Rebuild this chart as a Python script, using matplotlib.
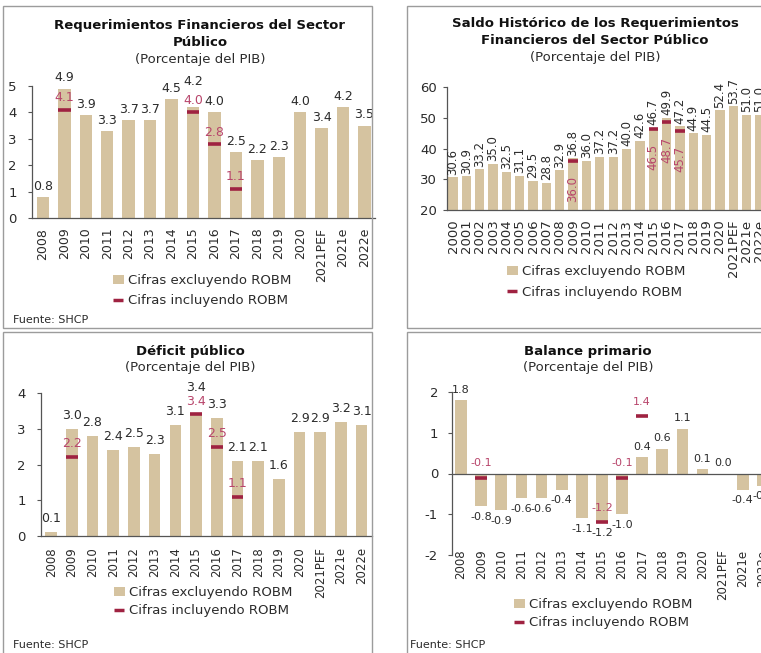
import matplotlib
matplotlib.use("Agg")
import matplotlib.pyplot as plt
import numpy as np
from matplotlib.lines import Line2D
from matplotlib.patches import Patch, Rectangle

# data (% of GDP)
YEARS_A = ["2008", "2009", "2010", "2011", "2012", "2013", "2014", "2015",
           "2016", "2017", "2018", "2019", "2020", "2021PEF", "2021e", "2022e"]
YEARS_B = ["2000", "2001", "2002", "2003", "2004", "2005", "2006", "2007"] + YEARS_A

RFSP = [0.8, 4.9, 3.9, 3.3, 3.7, 3.7, 4.5, 4.2, 4.0, 2.5, 2.2, 2.3, 4.0, 3.4, 4.2, 3.5]
RFSP_ROBM = {"2009": 4.1, "2015": 4.0, "2016": 2.8, "2017": 1.1}

SHRFSP = [30.6, 30.9, 33.2, 35.0, 32.5, 31.1, 29.5, 28.8, 32.9, 36.8, 36.0, 37.2,
          37.2, 40.0, 42.6, 46.7, 49.9, 47.2, 44.9, 44.5, 52.4, 53.7, 51.0, 51.0]
SHRFSP_ROBM = {"2009": 36.0, "2015": 46.5, "2016": 48.7, "2017": 45.7}

DEFICIT = [0.1, 3.0, 2.8, 2.4, 2.5, 2.3, 3.1, 3.4, 3.3, 2.1, 2.1, 1.6, 2.9, 2.9, 3.2, 3.1]
DEFICIT_ROBM = {"2009": 2.2, "2015": 3.4, "2016": 2.5, "2017": 1.1}

BALANCE = [1.8, -0.8, -0.9, -0.6, -0.6, -0.4, -1.1, -1.2, -1.0, 0.4, 0.6, 1.1, 0.1, 0.0, -0.4, -0.3]
BALANCE_ROBM = {"2009": -0.1, "2015": -1.2, "2016": -0.1, "2017": 1.4}

LEGEND_LABELS = ["Cifras excluyendo ROBM", "Cifras incluyendo ROBM"]
SUBTITLE = "(Porcentaje del PIB)"
SOURCE = "Fuente: SHCP"

BAR = "#D5C3A0"
RED = "#9F2241"
RED_TXT = "#B8456B"
TXT = "#2b2b2b"
AXC = "#555555"
W, H = 761, 653

plt.rcParams.update({"font.family": "DejaVu Sans", "font.size": 9,
                     "axes.unicode_minus": False})
fig = plt.figure(figsize=(W / 100, H / 100), dpi=100)


def fx(x):
    return x / W


def fy(y):
    return 1 - y / H


def add_axes(left, top, right, bottom):
    return fig.add_axes([fx(left), fy(bottom), (right - left) / W, (bottom - top) / H])


def frame(left, top, right, bottom):
    fig.patches.append(Rectangle((fx(left), fy(bottom)), (right - left) / W, (bottom - top) / H,
                                 transform=fig.transFigure, fill=False,
                                 edgecolor="#9c9c9c", linewidth=1.0))


def titles(cx, lines, y0, step=17):
    for i, line in enumerate(lines):
        fig.text(fx(cx), fy(y0 + i * step), line, ha="center", va="center",
                 fontsize=9.5, fontweight="bold", color="#111111")
    fig.text(fx(cx), fy(y0 + len(lines) * step), SUBTITLE, ha="center", va="center",
             fontsize=9.5, color=TXT)


def legend(ax, x, y, spacing=0.45):
    handles = [Patch(facecolor=BAR, edgecolor="none"),
               Line2D([], [], color=RED, marker="_", markersize=7, mew=2.5, linestyle="None")]
    ax.legend(handles, LEGEND_LABELS, loc="upper left", bbox_to_anchor=(fx(x), fy(y)),
              bbox_transform=fig.transFigure, frameon=False, fontsize=9.5,
              handlelength=0.8, handleheight=0.75, handletextpad=0.3,
              labelspacing=spacing, borderpad=0, borderaxespad=0, labelcolor=TXT)


def style(ax, years, ylim, yticks, xlim, tick_fs=8.5, xpad=4, ypad=5):
    ax.set_xlim(*xlim)
    ax.set_ylim(*ylim)
    ax.set_yticks(yticks)
    ax.set_xticks(np.arange(len(years)))
    ax.set_xticklabels(years, rotation=90, fontsize=tick_fs, color=TXT)
    ax.tick_params(axis="x", length=0, pad=xpad)
    ax.tick_params(axis="y", length=3, width=0.8, color=AXC, labelsize=9.5,
                   labelcolor=TXT, pad=ypad)
    for side in ("top", "right"):
        ax.spines[side].set_visible(False)
    for side in ("left", "bottom"):
        ax.spines[side].set_color(AXC)
        ax.spines[side].set_linewidth(0.9)
    ax.patch.set_alpha(0)


def bars(ax, years, values, robm, width):
    x = np.arange(len(years))
    ax.bar(x, values, width, color=BAR, zorder=2)
    for year, v in robm.items():
        i = years.index(year)
        ax.hlines(v, i - width / 2, i + width / 2, color=RED, linewidth=2.6, zorder=3)
    return x


def flat_labels(ax, years, values, robm, fs=9, base=4, red_off=5):
    for i, v in enumerate(values):
        off = base
        r = robm.get(years[i])
        if r is not None:
            ax.annotate(f"{r:.1f}", (i, r), xytext=(0, red_off), textcoords="offset points",
                        ha="center", va="bottom", fontsize=fs, color=RED_TXT, zorder=4)
            span = ax.get_ylim()[1] - ax.get_ylim()[0]
            if (v - r) / span < 0.08:
                off = red_off + 10
        ax.annotate(f"{v:.1f}", (i, v), xytext=(0, off), textcoords="offset points",
                    ha="center", va="bottom", fontsize=fs, color=TXT, zorder=4)


# ---- panel 1: RFSP
frame(3, 6, 372, 328)
titles(200, ["Requerimientos Financieros del Sector", "Público"], 25)
ax1 = add_axes(32, 86, 375, 218)
bars(ax1, YEARS_A, RFSP, RFSP_ROBM, 0.58)
style(ax1, YEARS_A, (0, 5), range(0, 6), (-0.51, 15.49), tick_fs=9, xpad=7, ypad=8)
flat_labels(ax1, YEARS_A, RFSP, RFSP_ROBM, base=3, red_off=4)
legend(ax1, 113, 274, spacing=0.55)
fig.text(fx(13), fy(320), SOURCE, ha="left", va="center", fontsize=8, color=TXT)

# ---- panel 2: SHRFSP
frame(407, 6, 800, 328)
titles(595, ["Saldo Histórico de los Requerimientos", "Financieros del Sector Público"], 23)
ax2 = add_axes(447, 87, 768, 210)
bars(ax2, YEARS_B, SHRFSP, SHRFSP_ROBM, 0.7)
style(ax2, YEARS_B, (20, 60), range(20, 61, 10), (-0.45, 23.6), tick_fs=9.5, xpad=7, ypad=4)
for i, v in enumerate(SHRFSP):
    ax2.annotate(f"{v:.1f}", (i, v), xytext=(0, 2), textcoords="offset points",
                 ha="center", va="bottom", rotation=90, fontsize=8.5, color=TXT, zorder=4)
    r = SHRFSP_ROBM.get(YEARS_B[i])
    if r is not None:
        ax2.annotate(f"{r:.1f}", (i, r), xytext=(0, -11), textcoords="offset points",
                     ha="center", va="top", rotation=90, fontsize=8.5, color=RED_TXT, zorder=4)
legend(ax2, 507, 265, spacing=0.6)

# ---- panel 3: deficit
frame(3, 332, 372, 700)
titles(190, ["Déficit público"], 352, step=16)
ax3 = add_axes(41, 393, 372, 536)
bars(ax3, YEARS_A, DEFICIT, DEFICIT_ROBM, 0.56)
style(ax3, YEARS_A, (0, 4), range(0, 5), (-0.49, 15.5), tick_fs=8.5, xpad=8, ypad=8)
flat_labels(ax3, YEARS_A, DEFICIT, DEFICIT_ROBM, base=5, red_off=5)
legend(ax3, 114, 586, spacing=0.4)
fig.text(fx(13), fy(645), SOURCE, ha="left", va="center", fontsize=8, color=TXT)

# ---- panel 4: primary balance
frame(407, 332, 800, 700)
titles(588, ["Balance primario"], 352, step=16)
ax4 = add_axes(452, 392, 774, 555)
bars(ax4, YEARS_A, BALANCE, BALANCE_ROBM, 0.58)
style(ax4, YEARS_A, (-2, 2), range(-2, 3), (-0.45, 15.55), tick_fs=8.5, xpad=-4, ypad=7)
ax4.spines["bottom"].set_visible(False)
ax4.axhline(0, color=AXC, linewidth=0.9, zorder=3)
for i, v in enumerate(BALANCE):
    up = v >= 0
    ax4.annotate(f"{v:.1f}", (i, v), xytext=(0, 4 if up else -4), textcoords="offset points",
                 ha="center", va="bottom" if up else "top", fontsize=8, color=TXT, zorder=4)
    r = BALANCE_ROBM.get(YEARS_A[i])
    if r is not None:
        ax4.annotate(f"{r:.1f}", (i, r), xytext=(0, 7), textcoords="offset points",
                     ha="center", va="bottom", fontsize=8, color=RED_TXT, zorder=4)
legend(ax4, 514, 598, spacing=0.4)
fig.text(fx(410), fy(645), SOURCE, ha="left", va="center", fontsize=8, color=TXT)

fig.savefig("out.png", dpi=100)
